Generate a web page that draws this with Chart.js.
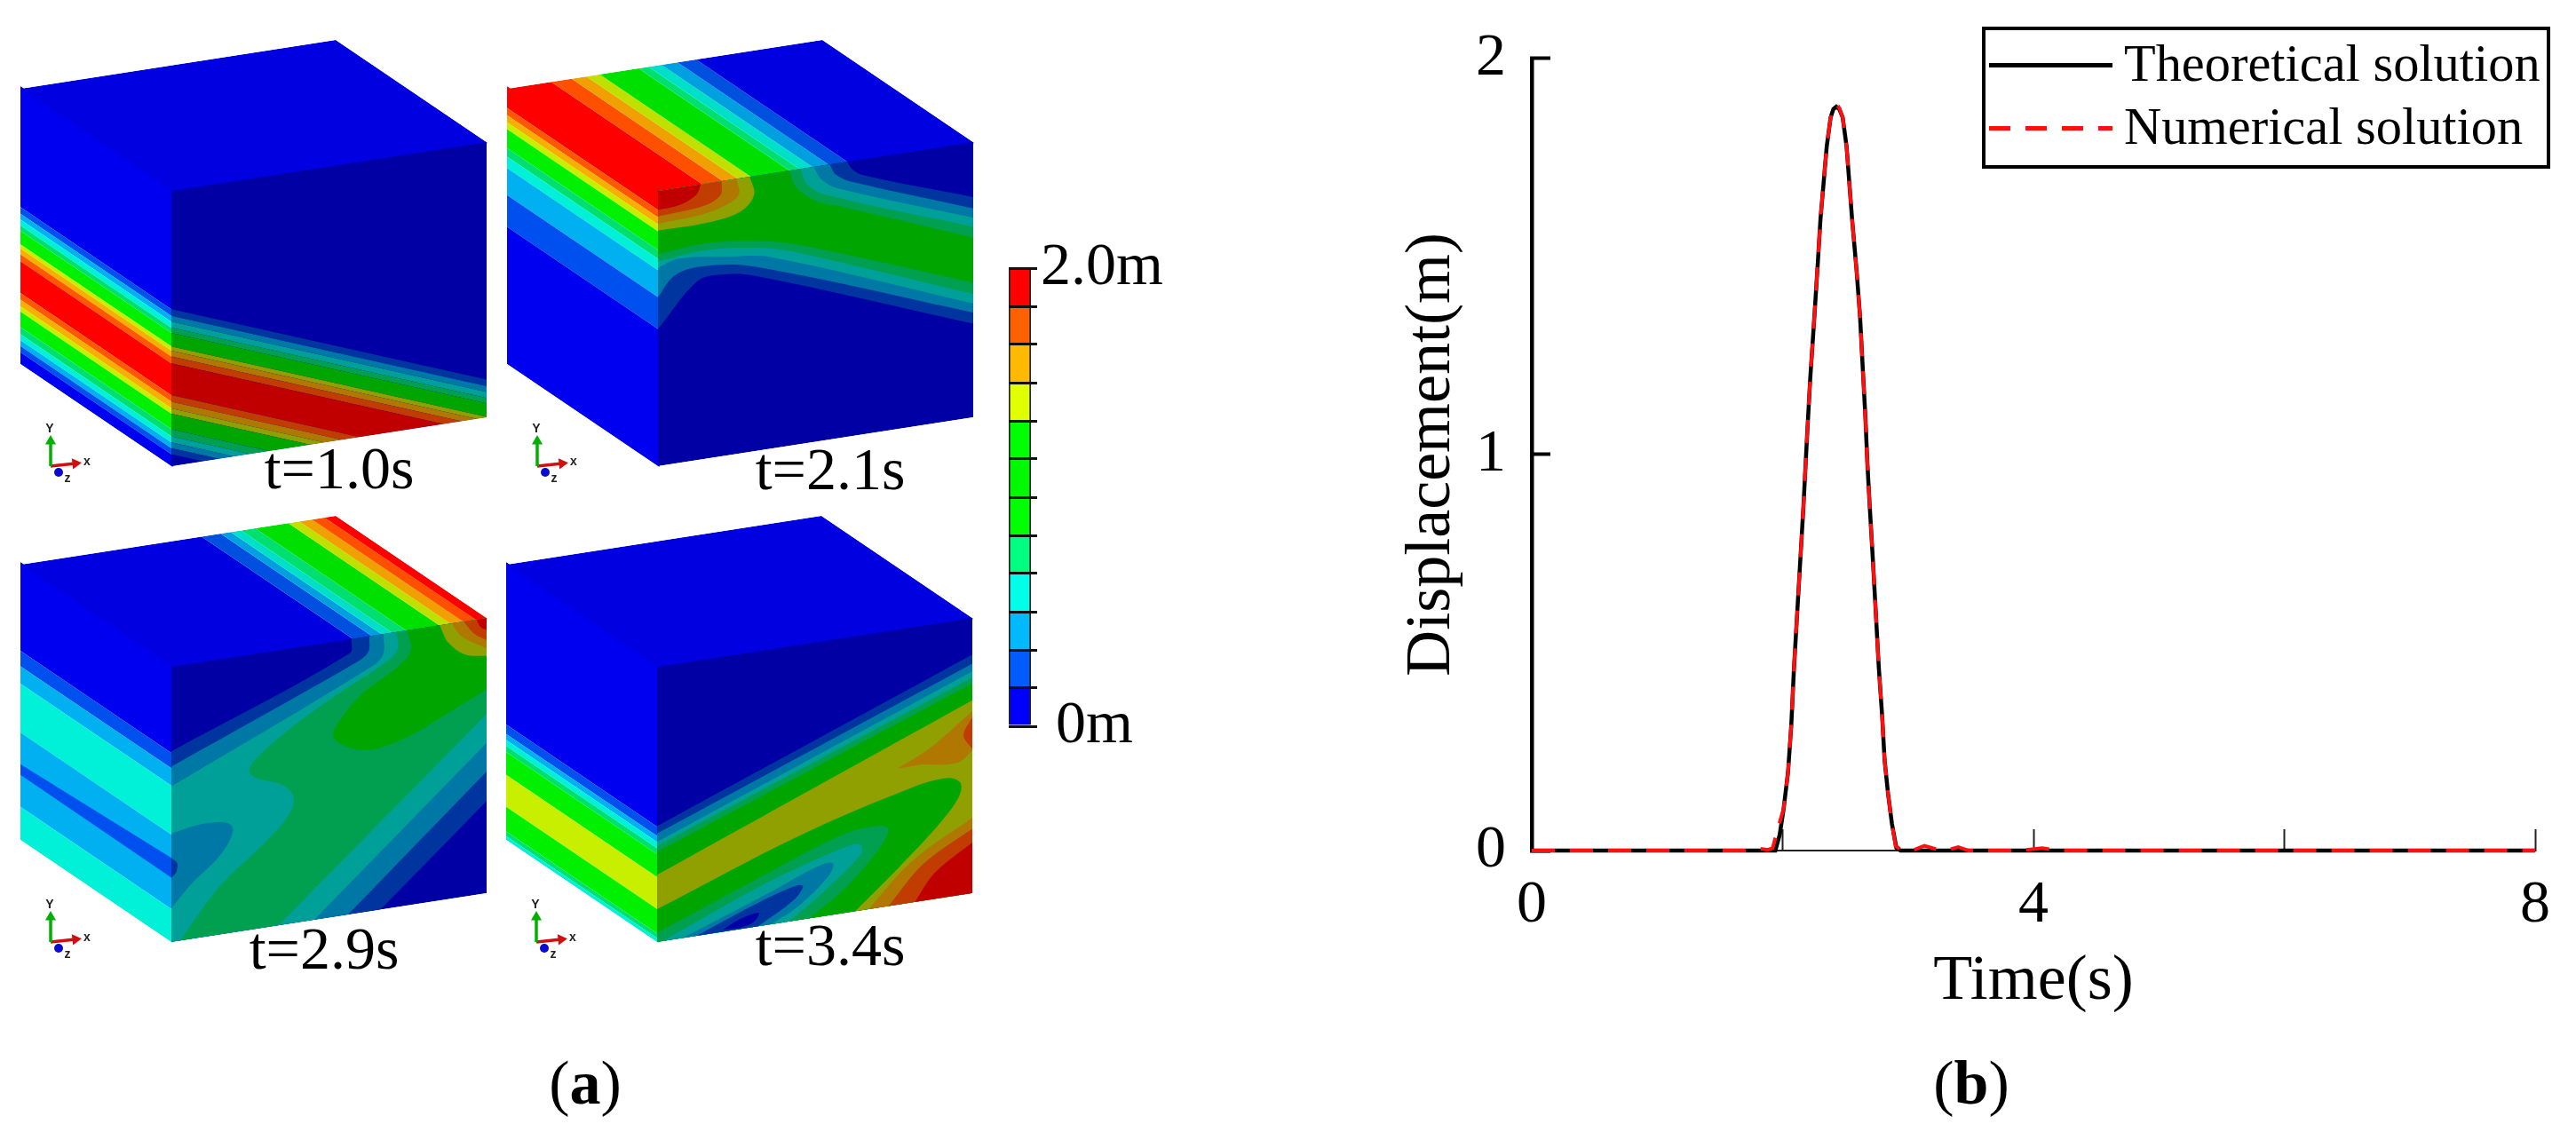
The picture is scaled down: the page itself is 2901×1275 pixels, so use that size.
<!DOCTYPE html>
<html>
<head>
  <title>Displacement contours and time history</title>
  <style>
    html, body { margin: 0; background: #fff; }
    body { position: relative; width: 2901px; height: 1275px; overflow: hidden; font-family: "Liberation Serif", serif; color: #000; }
    canvas { position: absolute; }
    .cube { position: absolute; width: 530px; height: 500px; }
    .label { position: absolute; line-height: 1; white-space: nowrap; transform: translateX(-50%); }
    .axis-name { position: absolute; font: bold 14px "Liberation Sans", sans-serif; line-height: 1; color: #222; transform: translate(-50%, -50%); }
    #legend { position: absolute; left: 2232px; top: 30px; width: 632px; height: 152px; border: 4px solid #000; background: #fff; }
    #legend .row { position: absolute; left: 0; right: 0; height: 72px; font-size: 58.4px; line-height: 72px; }
    #legend .swatch { position: absolute; left: 4px; top: 35px; width: 139px; height: 5px; }
    #legend .name { position: absolute; left: 156px; top: 0; white-space: nowrap; }
  </style>
</head>
<body>
  <div id="cubes"></div>
  <canvas id="colorBar" width="300" height="640" style="left:1130px;top:240px;width:300px;height:640px"></canvas>
  <canvas id="timeChart" width="1417" height="1300" style="left:1500px;top:-25px;width:1417px;height:1300px"></canvas>
  <div id="legend"></div>
  <div class="label" style="left:659px;top:1185px;font-size:70px">(<b>a</b>)</div>
  <div class="label" style="left:2220px;top:1185px;font-size:70px">(<b>b</b>)</div>

  <script src="https://cdn.jsdelivr.net/npm/chart.js"></script>
  <script>
    // panel (b): displacement time history
    const timeTheory = [0, 1.0, 1.942, 1.977, 2.008, 2.043, 2.069, 2.09, 2.112, 2.142, 2.166, 2.194, 2.22, 2.255, 2.279, 2.302, 2.352, 2.383, 2.405, 2.428, 2.452, 2.479, 2.51, 2.554, 2.59, 2.618, 2.636, 2.66, 2.676, 2.695, 2.719, 2.742, 2.766, 2.794, 2.813, 2.841, 2.872, 2.907, 2.94, 4, 6, 8];
    const dispTheory = [0, 0, 0, 0.04, 0.105, 0.197, 0.315, 0.456, 0.576, 0.738, 0.868, 1.04, 1.19, 1.356, 1.475, 1.594, 1.778, 1.851, 1.872, 1.878, 1.872, 1.851, 1.778, 1.594, 1.464, 1.346, 1.236, 1.096, 0.977, 0.868, 0.738, 0.608, 0.467, 0.338, 0.229, 0.143, 0.067, 0.007, 0, 0, 0, 0];
    const timeNumeric = [0, 1.0, 1.7, 1.8, 1.88, 1.92, 1.954, 1.98, 2.008, 2.043, 2.069, 2.09, 2.112, 2.142, 2.166, 2.194, 2.22, 2.255, 2.279, 2.302, 2.352, 2.383, 2.405, 2.43, 2.452, 2.479, 2.51, 2.554, 2.59, 2.618, 2.636, 2.66, 2.676, 2.695, 2.719, 2.742, 2.766, 2.794, 2.813, 2.841, 2.872, 2.9, 2.95, 3.05, 3.13, 3.22, 3.3, 3.4, 3.48, 3.9, 4.07, 4.2, 6, 8];
    const dispNumeric = [0, 0, 0, 0.006, 0.002, 0.006, 0.045, 0.075, 0.105, 0.197, 0.315, 0.456, 0.576, 0.738, 0.868, 1.04, 1.19, 1.356, 1.475, 1.594, 1.778, 1.851, 1.875, 1.885, 1.875, 1.851, 1.778, 1.594, 1.464, 1.346, 1.236, 1.096, 0.977, 0.868, 0.738, 0.608, 0.467, 0.338, 0.229, 0.143, 0.067, 0.012, 0, 0.002, 0.012, 0.004, 0, 0.009, 0, 0, 0.006, 0, 0, 0];
    const timeTicks = [0, 2, 4, 6, 8];
    const timeLabels = ['0', '', '4', '', '8'];
    const dispTicks = [0, 1, 2];

    // colour bar, metres
    const barLevels = [0, 0.167, 0.333, 0.5, 0.667, 0.833, 1, 1.167, 1.333, 1.5, 1.667, 1.833, 2];
    const barColours = ['#0000ff', '#005cff', '#00b9ff', '#00ffe8', '#00ff80', '#00ff00', '#00f800', '#00ff00', '#e0ff00', '#ffb900', '#ff6000', '#ff0000'];

    // contour colours by band: blue, deep, sky, cyan, spring, green, yellow, amber, orange, red
    const leftColours = ['#0000f0', '#0050f0', '#00b0f0', '#00f0d8', '#00e070', '#00f000', '#c8ee00', '#f8b000', '#ff5800', '#ff0000'];
    const topColours = ['#0000e0', '#0050e0', '#00a0e0', '#00e0c8', '#00e070', '#00e000', '#c0e000', '#f0a000', '#ff5000', '#ff0000'];
    const frontColours = ['#0000a5', '#0035a0', '#0078a5', '#00a098', '#00a050', '#00a500', '#90a000', '#b07800', '#c03c00', '#c00000'];

    // side face levels, fraction of the height from the top, and the band between each pair
    const leftLevels10 = [0, 0.43, 0.454, 0.475, 0.497, 0.516, 0.565, 0.581, 0.602, 0.627, 0.742, 0.766, 0.79, 0.81, 0.866, 0.892, 0.914, 0.935, 0.957, 1];
    const leftBands10 = [0, 1, 2, 3, 4, 5, 6, 7, 8, 9, 8, 7, 6, 5, 4, 3, 2, 1, 0];
    const leftLevels21 = [0, 0.069, 0.096, 0.122, 0.147, 0.215, 0.247, 0.288, 0.386, 0.502, 1];
    const leftBands21 = [9, 8, 7, 6, 5, 4, 3, 2, 1, 0];
    const leftLevels29 = [0, 0.313, 0.369, 0.432, 0.61, 0.88, 1];
    const leftBands29 = [0, 1, 2, 3, 2, 3];
    const leftLevels34 = [0, 0.581, 0.615, 0.637, 0.659, 0.681, 0.764, 0.88, 0.969, 0.986, 1];
    const leftBands34 = [0, 1, 2, 3, 4, 5, 6, 5, 4, 3];

    // top face levels, fraction of the width
    const topLevels10 = [0, 1];
    const topBands10 = [0];
    const topLevels21 = [0, 0.14, 0.205, 0.252, 0.294, 0.417, 0.449, 0.49, 0.541, 0.6, 1];
    const topBands21 = [9, 8, 7, 6, 5, 4, 3, 2, 1, 0];
    const topLevels29 = [0, 0.575, 0.635, 0.667, 0.7, 0.745, 0.85, 0.885, 0.925, 0.965, 1];
    const topBands29 = [0, 1, 2, 3, 4, 5, 6, 7, 8, 9];
    const topLevels34 = [0, 1];
    const topBands34 = [0];

    // front face contours: band, then [across, down, corner flag] as fractions of the face
    const frontSlope10 = 0.433;
    const frontContours21 = [
      [1, [[0.6, 0, 1], [0.617, 0.032], [0.656, 0.061], [1, 0.2, 1], [1, 0.66, 1], [0.305, 0.362], [0.192, 0.339], [0.122, 0.352], [0, 0.502, 1], [0, 0, 1]]],
      [2, [[0.544, 0, 1], [0.565, 0.042], [0.621, 0.079], [1, 0.241, 1], [1, 0.619, 1], [0.305, 0.329], [0.136, 0.299], [0.052, 0.317], [0, 0.386, 1], [0, 0, 1]]],
      [3, [[0.494, 0, 1], [0.518, 0.05], [0.572, 0.093], [1, 0.275, 1], [1, 0.586, 1], [0.361, 0.305], [0.235, 0.28], [0.066, 0.258], [0, 0.28, 1], [0, 0, 1]]],
      [4, [[0.452, 0, 1], [0.473, 0.059], [0.529, 0.107], [1, 0.308, 1], [1, 0.552, 1], [0.487, 0.322], [0.361, 0.274], [0.164, 0.243], [0, 0.256, 1], [0, 0, 1]]],
      [5, [[0.417, 0, 1], [0.438, 0.064], [0.501, 0.125], [0.586, 0.162], [1, 0.347, 1], [1, 0.511, 1], [0.501, 0.297], [0.361, 0.248], [0.164, 0.218], [0, 0.23, 1], [0, 0, 1]]],
      [6, [[0.291, 0, 1], [0.305, 0.068], [0.263, 0.121], [0.164, 0.143], [0, 0.144, 1], [0, 0, 1]]],
      [7, [[0.249, 0, 1], [0.256, 0.059], [0.206, 0.094], [0.122, 0.113], [0, 0.119, 1], [0, 0, 1]]],
      [8, [[0.202, 0, 1], [0.199, 0.049], [0.15, 0.079], [0, 0.093, 1], [0, 0, 1]]],
      [9, [[0.136, 0, 1], [0.122, 0.035], [0.066, 0.064], [0, 0.069, 1], [0, 0, 1]]]
    ];
    const frontContours29 = [
      [1, [[0, 0.307, 1], [0.566, 0.051], [0.571, 0, 1], [1, 0, 1], [1, 0.665, 1], [0.663, 1, 1], [0, 1, 1]]],
      [2, [[0, 0.3625, 1], [0.587, 0.088], [0.625, 0.056], [0.628, 0, 1], [1, 0, 1], [1, 0.558, 1], [0.56, 1, 1], [0, 1, 1]]],
      [3, [[0, 0.435, 1], [0.641, 0.109], [0.673, 0.07], [0.673, 0, 1], [1, 0, 1], [1, 0.454, 1], [0.453, 1, 1], [0, 1, 1]]],
      [4, [[0.714, 0, 1], [0.717, 0.067], [0.673, 0.109], [0.533, 0.19], [0.372, 0.295], [0.264, 0.387], [0.248, 0.428], [0.275, 0.455], [0.35, 0.49], [0.388, 0.541], [0.372, 0.605], [0.296, 0.692], [0.156, 0.822], [0.027, 1, 1], [0.339, 1, 1], [1, 0.349, 1], [1, 0, 1]]],
      [5, [[0.747, 0, 1], [0.76, 0.074], [0.717, 0.128], [0.598, 0.212], [0.517, 0.32], [0.517, 0.353], [0.566, 0.395], [0.641, 0.414], [0.749, 0.388], [0.857, 0.335], [1, 0.26, 1], [1, 0, 1]]],
      [6, [[0.851, 0, 1], [0.878, 0.067], [0.932, 0.121], [1, 0.138, 1], [1, 0, 1]]],
      [7, [[0.889, 0, 1], [0.921, 0.053], [1, 0.111, 1], [1, 0, 1]]],
      [8, [[0.927, 0, 1], [0.959, 0.048], [1, 0.081, 1], [1, 0, 1]]],
      [9, [[0.968, 0, 1], [0.981, 0.03], [1, 0.044, 1], [1, 0, 1]]],
      [2, [[0, 0.606, 1], [0.092, 0.589], [0.178, 0.599], [0.196, 0.63], [0.156, 0.711], [0.059, 0.805], [0, 0.878, 1]]],
      [1, [[0, 0.695, 1], [0.018, 0.715], [0.016, 0.748], [0, 0.767, 1]]]
    ];
    const frontContours34 = [
      [1, [[0, 0.579, 1], [1, 0.133, 1], [1, 1, 1], [0, 1, 1]]],
      [2, [[0, 0.606, 1], [1, 0.166, 1], [1, 1, 1], [0, 1, 1]]],
      [3, [[0, 0.636, 1], [1, 0.194, 1], [1, 1, 1], [0, 1, 1]]],
      [4, [[0, 0.651, 1], [1, 0.216, 1], [1, 1, 1], [0, 1, 1]]],
      [5, [[0, 0.673, 1], [1, 0.238, 1], [1, 1, 1], [0, 1, 1]]],
      [6, [[0, 0.756, 1], [1, 0.299, 1], [1, 1, 1], [0, 1, 1]]],
      [7, [[0.762, 0.505, 1], [0.867, 0.448], [1, 0.338, 1], [1, 0.482, 1], [0.951, 0.518], [0.839, 0.504]]],
      [8, [[1, 0.36, 1], [0.972, 0.422], [1, 0.477, 1]]],
      [7, [[0.67, 1, 1], [0.811, 0.848], [1, 0.726, 1], [1, 1, 1]]],
      [8, [[0.734, 1, 1], [0.846, 0.865], [1, 0.765, 1], [1, 1, 1]]],
      [9, [[0.818, 1, 1], [0.881, 0.905], [1, 0.815, 1], [1, 1, 1]]],
      [5, [[0, 0.881, 1], [0.446, 0.696], [0.811, 0.582], [0.923, 0.568], [0.962, 0.592], [0.958, 0.641], [0.895, 0.73], [0.769, 0.863], [0.628, 1, 1], [0, 1, 1]]],
      [4, [[0, 0.967, 1], [0.306, 0.832], [0.586, 0.715], [0.712, 0.703], [0.734, 0.724], [0.698, 0.795], [0.586, 0.92], [0.481, 1, 1], [0, 1, 1]]],
      [3, [[0.018, 1, 1], [0.334, 0.853], [0.586, 0.764], [0.642, 0.758], [0.649, 0.792], [0.53, 0.91], [0.418, 1, 1]]],
      [2, [[0.081, 1, 1], [0.362, 0.881], [0.516, 0.813], [0.558, 0.813], [0.544, 0.857], [0.446, 0.951], [0.362, 1, 1]]],
      [1, [[0.123, 1, 1], [0.334, 0.909], [0.446, 0.873], [0.463, 0.881], [0.432, 0.926], [0.32, 1, 1]]],
      [0, [[0.208, 0.992], [0.264, 0.963], [0.323, 0.951], [0.306, 0.982], [0.264, 0.996]]]
    ];
    // dark strip on the side face at t=2.9s
    const leftStrip29 = [[0, 0.725], [1, 0.694], [1, 0.766], [0, 0.764]];

    const cubeTimes = ['t=1.0s', 't=2.1s', 't=2.9s', 't=3.4s'];

    Chart.defaults.font.family = '"Liberation Serif", serif';
    Chart.defaults.animation = false;

    // cube layout on its own chart scale
    const cubeScaleX = 530, cubeScaleY = 500;
    function toCube(face, a, b) {
      if (face === 'left') return { x: 170 * a, y: 55 + 115 * a + 310 * b };
      if (face === 'front') return { x: 170 + 355 * a, y: 170 - 55 * a + 310 * b };
      return { x: 355 * a + 170 * b, y: 55 - 55 * a + 115 * b };
    }
    // side and top run slightly under the faces painted after them, so no seam shows
    const faceOutline = {
      left: [[0, -0.01], [1.01, -0.01], [1.01, 1], [0, 1]],
      top: [[0, 0], [1, 0], [1, 1.01], [0, 1.01]],
      front: [[0, 0], [1, 0], [1, 1], [0, 1]]
    };

    // fills a closed dataset through its own line element, held inside its cube face
    const contourFill = {
      id: 'contourFill',
      beforeDatasetDraw(chart, args) {
        const ds = chart.data.datasets[args.index];
        if (!ds.contour) return;
        const ctx = chart.ctx, xs = chart.scales.x, ys = chart.scales.y, line = args.meta.dataset;
        ctx.save();
        ctx.beginPath();
        faceOutline[ds.face].forEach(([a, b], i) => {
          const p = toCube(ds.face, a, b);
          const px = xs.getPixelForValue(p.x), py = ys.getPixelForValue(p.y);
          i ? ctx.lineTo(px, py) : ctx.moveTo(px, py);
        });
        ctx.closePath();
        ctx.clip();
        line.updateControlPoints(chart.chartArea, 'x');
        ctx.beginPath();
        line.path(ctx);
        ctx.closePath();
        ctx.fillStyle = ds.fillColour;
        ctx.fill();
        ctx.restore();
        return false;
      }
    };

    function contour(face, pts, colour, curved) {
      const data = [];
      pts.forEach(p => {
        const q = toCube(face, p[0], p[1]);
        data.push(q);
        if (p[2]) data.push(q);
      });
      return { data, face, contour: true, fillColour: colour, showLine: true, tension: curved ? 0.35 : 0, pointRadius: 0, borderWidth: 0, clip: false };
    }

    function leftBands(levels, bands) {
      return bands.map((b, i) => {
        const from = i ? levels[i] : -0.01;
        return contour('left', [[0, from], [1.01, from], [1.01, levels[i + 1]], [0, levels[i + 1]]], leftColours[b], false);
      });
    }
    function topBands(levels, bands) {
      return bands.map((b, i) => contour('top', [[levels[i], 0], [levels[i + 1], 0], [levels[i + 1], 1.01], [levels[i], 1.01]], topColours[b], false));
    }
    function frontBase() {
      return contour('front', [[0, 0], [1, 0], [1, 1], [0, 1]], frontColours[0], false);
    }
    function frontSloped(levels, bands, slope) {
      return bands.map((b, i) => contour('front', [[0, levels[i]], [1, levels[i] + slope], [1, levels[i + 1] + slope], [0, levels[i + 1]]], frontColours[b], false));
    }
    function frontCurves(list) {
      return list.map(([b, pts]) => contour('front', pts, frontColours[b], true));
    }

    function triad() {
      const arrow = (tip, colour, rotation) => ({
        data: [{ x: 34, y: 480 }, tip], showLine: true, borderColor: colour, borderWidth: 3.5, clip: false,
        pointRadius: [0, 7], pointStyle: 'triangle', rotation, pointBackgroundColor: colour, pointBorderWidth: 0
      });
      return [
        arrow({ x: 34, y: 452 }, '#00b000', 0),
        arrow({ x: 62, y: 477 }, '#d01010', 84),
        { data: [{ x: 43, y: 487 }], pointRadius: 5, pointBackgroundColor: '#0a0ad0', pointBorderWidth: 0, clip: false }
      ];
    }

    const cubeFaces = [
      [...leftBands(leftLevels10, leftBands10), ...topBands(topLevels10, topBands10), frontBase(), ...frontSloped(leftLevels10, leftBands10, frontSlope10).slice(1)],
      [...leftBands(leftLevels21, leftBands21), ...topBands(topLevels21, topBands21), frontBase(), ...frontCurves(frontContours21)],
      [...leftBands(leftLevels29, leftBands29), contour('left', leftStrip29, leftColours[1], false), ...topBands(topLevels29, topBands29), frontBase(), ...frontCurves(frontContours29)],
      [...leftBands(leftLevels34, leftBands34), ...topBands(topLevels34, topBands34), frontBase(), ...frontCurves(frontContours34)]
    ];
    const cubeAt = [[23, 45], [571, 45], [23, 580.5], [570, 580.5]];
    const captionAt = [[382, 493], [935, 494], [365, 1034], [935, 1029.5]];

    cubeFaces.forEach((faces, i) => {
      const box = document.createElement('div');
      box.className = 'cube';
      box.style.left = cubeAt[i][0] + 'px';
      box.style.top = cubeAt[i][1] + 'px';
      const canvas = document.createElement('canvas');
      canvas.width = cubeScaleX;
      canvas.height = cubeScaleY;
      canvas.style.cssText = 'left:0;top:0;width:530px;height:500px';
      box.appendChild(canvas);
      [['Y', 33, 437], ['x', 75, 474], ['z', 53, 493]].forEach(([t, x, y]) => {
        const s = document.createElement('span');
        s.className = 'axis-name';
        s.textContent = t;
        s.style.left = x + 'px';
        s.style.top = y + 'px';
        box.appendChild(s);
      });
      document.getElementById('cubes').appendChild(box);

      const caption = document.createElement('div');
      caption.className = 'label';
      caption.textContent = cubeTimes[i];
      caption.style.cssText = `left:${captionAt[i][0]}px;top:${captionAt[i][1]}px;font-size:68px`;
      document.body.appendChild(caption);

      new Chart(canvas, {
        type: 'scatter',
        // last dataset is painted first, so the list runs top layer to bottom layer
        data: { datasets: [...triad(), ...faces.slice().reverse()] },
        options: {
          responsive: false,
          layout: { padding: 0, autoPadding: false },
          plugins: { legend: { display: false }, tooltip: { enabled: false } },
          scales: {
            x: { type: 'linear', display: false, min: 0, max: cubeScaleX },
            y: { type: 'linear', display: false, min: 0, max: cubeScaleY, reverse: true }
          }
        },
        plugins: [contourFill]
      });
    });

    new Chart(document.getElementById('colorBar'), {
      type: 'bar',
      data: {
        labels: ['displacement'],
        datasets: barColours.map((c, i) => ({
          data: [[barLevels[i], barLevels[i + 1]]],
          backgroundColor: c,
          barPercentage: 1,
          categoryPercentage: 1,
          grouped: false,
          borderColor: '#222',
          borderWidth: { left: 2, right: 2 },
          borderSkipped: false
        }))
      },
      options: {
        responsive: false,
        layout: { padding: { left: 6, top: 62, bottom: 62 }, autoPadding: false },
        plugins: { legend: { display: false }, tooltip: { enabled: false } },
        scales: {
          x: { display: false },
          y: {
            position: 'right',
            min: 0,
            max: 2,
            afterBuildTicks: s => { s.ticks = barLevels.map(value => ({ value })); },
            afterFit: s => { s.width = 269; },
            border: { display: false },
            grid: { color: '#111', lineWidth: 3, tickLength: 7, z: 1 },
            ticks: {
              autoSkip: false,
              padding: 4,
              color: '#000',
              font: { size: 68 },
              callback: v => (v === 2 ? '2.0m' : v === 0 ? ' 0m' : '')
            }
          }
        }
      }
    });

    const series = [
      { label: 'Theoretical solution', data: timeTheory.map((x, i) => ({ x, y: dispTheory[i] })), borderColor: '#000', borderWidth: 4.5, showLine: true, pointRadius: 0, clip: false, order: 2 },
      { label: 'Numerical solution', data: timeNumeric.map((x, i) => ({ x, y: dispNumeric[i] })), borderColor: '#ff0f0f', borderWidth: 4, borderDash: [26, 17], showLine: true, pointRadius: 0, clip: false, order: 1 }
    ];

    new Chart(document.getElementById('timeChart'), {
      type: 'scatter',
      data: { datasets: series },
      options: {
        responsive: false,
        layout: { padding: { top: 39, right: 22 }, autoPadding: false },
        plugins: { legend: { display: false }, tooltip: { enabled: false } },
        scales: {
          x: {
            type: 'linear',
            min: 0,
            max: 8,
            afterBuildTicks: s => { s.ticks = timeTicks.map(value => ({ value })); },
            afterFit: s => { s.height = 317; },
            border: { color: '#222', width: 2 },
            grid: { drawOnChartArea: false, tickLength: -24, tickColor: '#222', tickWidth: 2 },
            ticks: {
              color: '#000',
              font: { size: 68 },
              padding: 45,
              maxRotation: 0,
              autoSkip: false,
              callback: v => timeLabels[timeTicks.indexOf(v)]
            },
            title: { display: true, text: 'Time(s)', color: '#000', font: { size: 72 }, padding: { top: 0, bottom: 126 } }
          },
          y: {
            type: 'linear',
            min: 0,
            max: 2,
            afterBuildTicks: s => { s.ticks = dispTicks.map(value => ({ value })); },
            afterFit: s => { s.width = 225; },
            border: { color: '#000', width: 4.5 },
            grid: { drawOnChartArea: false, tickLength: -21, tickColor: '#000', tickWidth: 4 },
            ticks: { color: '#000', font: { size: 68 }, padding: 50, autoSkip: false },
            title: { display: true, text: 'Displacement(m)', color: '#000', font: { size: 72 }, padding: { top: 70, bottom: 0 } }
          }
        }
      }
    });

    // legend box sits over the top edge of the axes, so it is built from the series here
    const legend = document.getElementById('legend');
    series.forEach((s, i) => {
      const row = document.createElement('div');
      row.className = 'row';
      row.style.top = (2.4 + i * 71) + 'px';
      const swatch = document.createElement('div');
      swatch.className = 'swatch';
      swatch.style.background = s.borderDash
        ? `repeating-linear-gradient(90deg, ${s.borderColor} 0 24px, transparent 24px 41px)`
        : s.borderColor;
      const name = document.createElement('div');
      name.className = 'name';
      name.textContent = s.label;
      row.append(swatch, name);
      legend.appendChild(row);
    });
  </script>
</body>
</html>
